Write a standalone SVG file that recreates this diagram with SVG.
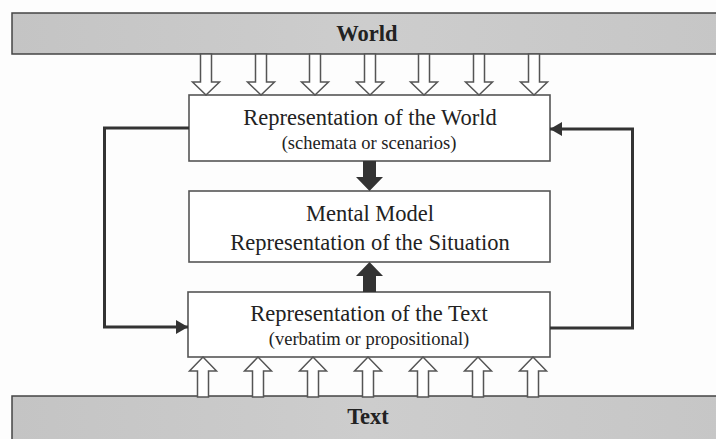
<svg xmlns="http://www.w3.org/2000/svg" width="716" height="439" viewBox="0 0 716 439">
  <defs>
    <linearGradient id="barFill" x1="0" y1="0" x2="1" y2="0">
      <stop offset="0" stop-color="#c4c4c4"/>
      <stop offset="0.5" stop-color="#cdcdcd"/>
      <stop offset="1" stop-color="#c6c6c6"/>
    </linearGradient>
    <!-- hollow block arrow pointing down, origin at the tip -->
    <path id="hollowDown" d="M-5.5,-41 L5.5,-41 L5.5,-13 L13.5,-13 L0,0 L-13.5,-13 L-5.5,-13 Z"/>
    <!-- hollow block arrow pointing up, origin at the tip -->
    <path id="hollowUp" d="M-5.5,40 L5.5,40 L5.5,14 L13.5,14 L0,0 L-13.5,14 L-5.5,14 Z"/>
    <marker id="head" viewBox="0 0 12 14" refX="12" refY="7" markerWidth="12" markerHeight="14" markerUnits="userSpaceOnUse" orient="auto">
      <path d="M0,0 L12,7 L0,14 Z" fill="#333"/>
    </marker>
  </defs>
  <style>
    .bar { fill: url(#barFill); stroke: #444; stroke-width: 1.5; }
    .box { fill: #fff; stroke: #555; stroke-width: 1.6; }
    .hollow { fill: #fff; stroke: #555; stroke-width: 1.5; stroke-linejoin: miter; }
    .solid { fill: #333; }
    .loop { fill: none; stroke: #333; stroke-width: 3; marker-end: url(#head); }
    .title { font-family: "Liberation Serif", "Times New Roman", serif; font-size: 22.5px; font-weight: bold; fill: #222; text-anchor: middle; }
    .main { font-family: "Liberation Serif", "Times New Roman", serif; font-size: 22.5px; fill: #222; text-anchor: middle; }
    .sub { font-family: "Liberation Serif", "Times New Roman", serif; font-size: 18.5px; fill: #222; text-anchor: middle; }
  </style>
  <rect width="716" height="439" fill="#fdfdfd"/>

  <g id="world">
    <rect class="bar" x="12" y="13" width="712" height="41"/>
    <text class="title" x="367" y="41">World</text>
  </g>

  <g id="text-source">
    <rect class="bar" x="12" y="396" width="712" height="50"/>
    <text class="title" x="368" y="424">Text</text>
  </g>

  <g id="rep-world">
    <rect class="box" x="189" y="95" width="361" height="66"/>
    <text class="main" x="370" y="125">Representation of the World</text>
    <text class="sub" x="369" y="149">(schemata or scenarios)</text>
  </g>

  <g id="mental-model">
    <rect class="box" x="189" y="191" width="361" height="71"/>
    <text class="main" x="370" y="221">Mental Model</text>
    <text class="main" x="370" y="250">Representation of the Situation</text>
  </g>

  <g id="rep-text">
    <rect class="box" x="188" y="292" width="362" height="65"/>
    <text class="main" x="369" y="321">Representation of the Text</text>
    <text class="sub" x="369" y="345">(verbatim or propositional)</text>
  </g>

  <g id="connectors">
    <!-- world inputs -->
    <use href="#hollowDown" class="hollow" x="206" y="95"/>
    <use href="#hollowDown" class="hollow" x="261" y="95"/>
    <use href="#hollowDown" class="hollow" x="315" y="95"/>
    <use href="#hollowDown" class="hollow" x="370" y="95"/>
    <use href="#hollowDown" class="hollow" x="424" y="95"/>
    <use href="#hollowDown" class="hollow" x="479" y="95"/>
    <use href="#hollowDown" class="hollow" x="534" y="95"/>
    <!-- text inputs -->
    <use href="#hollowUp" class="hollow" x="203" y="357"/>
    <use href="#hollowUp" class="hollow" x="258" y="357"/>
    <use href="#hollowUp" class="hollow" x="313" y="357"/>
    <use href="#hollowUp" class="hollow" x="368" y="357"/>
    <use href="#hollowUp" class="hollow" x="423" y="357"/>
    <use href="#hollowUp" class="hollow" x="478" y="357"/>
    <use href="#hollowUp" class="hollow" x="533" y="357"/>
    <!-- world representation feeds the mental model -->
    <path class="solid" d="M363,161 L376,161 L376,177 L383,177 L369.5,191 L356,177 L363,177 Z"/>
    <!-- text representation feeds the mental model -->
    <path class="solid" d="M363,292 L376,292 L376,276 L383,276 L369.5,262 L356,276 L363,276 Z"/>
    <!-- feedback loops -->
    <path class="loop" d="M189,128 L104.5,128 L104.5,327 L188,327"/>
    <path class="loop" d="M550,328 L632.5,328 L632.5,129 L550,129"/>
  </g>
</svg>
